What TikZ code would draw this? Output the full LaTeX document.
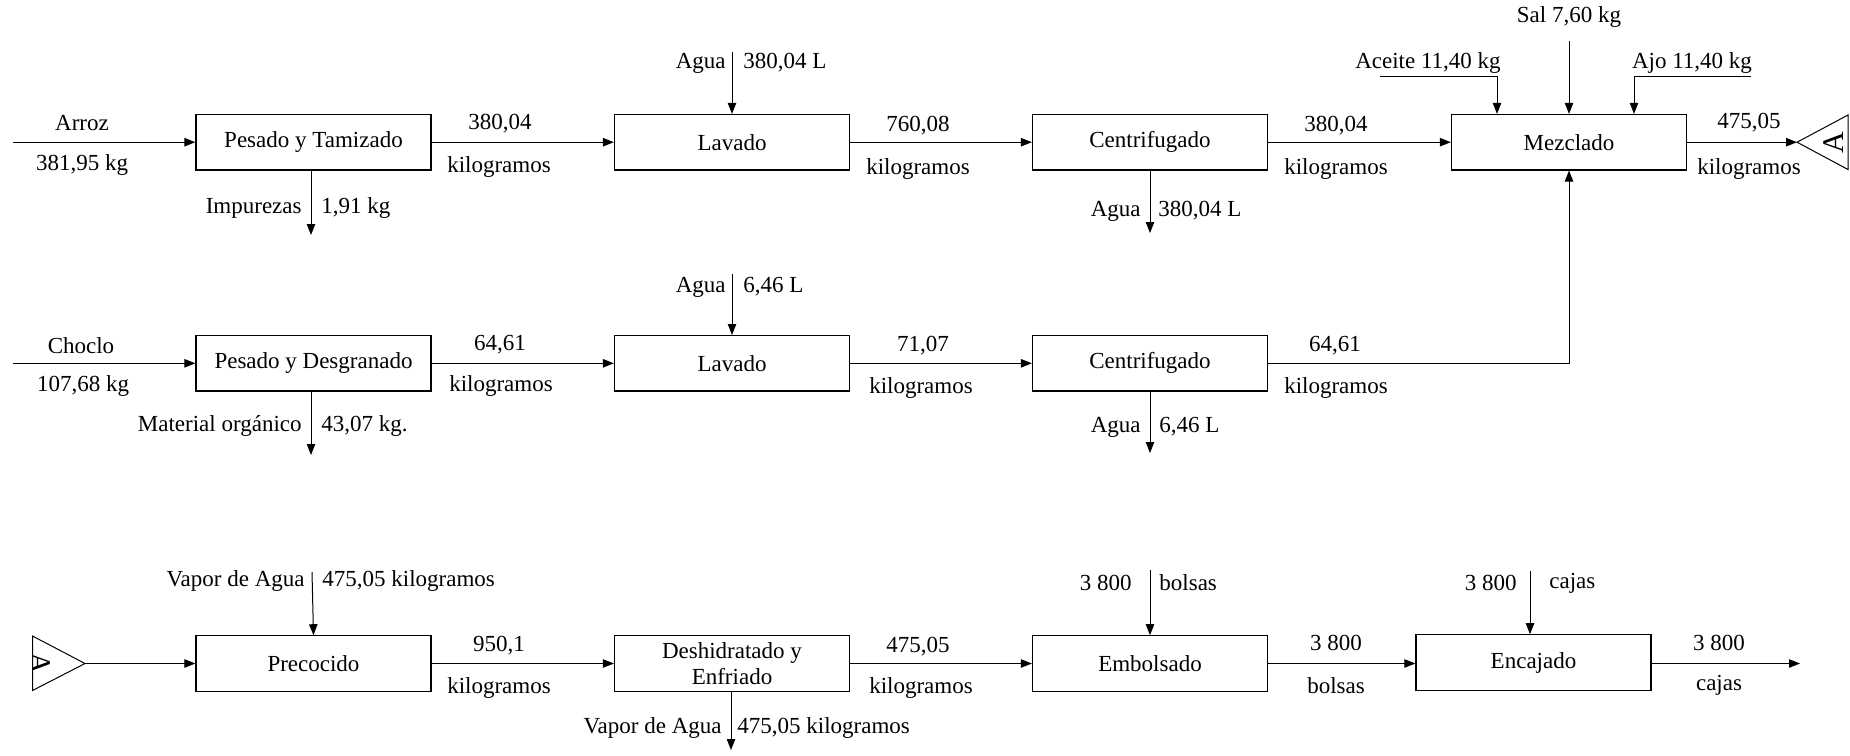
\documentclass[tikz,border=0pt]{standalone}
\usepackage{fontspec}
\setmainfont{Liberation Serif}
\usetikzlibrary{arrows.meta,calc}
\begin{document}
\begin{tikzpicture}[x=0.5pt,y=-0.5pt,
  every node/.style={font=\fontsize{11.5}{12.8}\selectfont, inner sep=0pt},
  proc/.style={draw, line width=0.6pt, minimum width=117.5pt, minimum height=27.7pt, align=center},
  arr/.style={-{Triangle[length=5.5pt,width=4.2pt]}, line width=0.5pt},
  ln/.style={line width=0.5pt},
  tri/.style={line width=0.5pt},
  trilbl/.style={font=\fontsize{15}{15}\selectfont}]
\useasboundingbox (0,0) rectangle (1850,755);

% ---------- Row 1 ----------
\node[proc] (pt)   at (313.5,142.2) {Pesado y Tamizado};
\node[proc] (lav1) at (732,142.2)   {Lavado};
\node[proc] (cen1) at (1150,142.2)  {Centrifugado};
\node[proc] (mez)  at (1569,142.2)  {Mezclado};

\coordinate (inArroz) at (13,142.2);
\draw[arr] (inArroz) -- (pt.west);
\node at (82,123) {Arroz};
\node at (82,165) {381,95 kg};

\coordinate (impOut) at (311,235);
\draw[arr] (pt.south -| impOut) -- (impOut);
\node[anchor=east] at (302,208) {Impurezas};
\node[anchor=west] at (321,208) {1,91 kg};

\draw[arr] (pt.east) -- (lav1.west);
\node at (500,124) {380,04};
\node at (499,167) {kilogramos};

\coordinate (agua1in) at (732,52);
\draw[arr] (agua1in) -- (lav1.north);
\node[anchor=east] at (726,63) {Agua};
\node[anchor=west] at (743,63) {380,04 L};

\draw[arr] (lav1.east) -- (cen1.west);
\node at (918,126) {760,08};
\node at (918,169) {kilogramos};

\coordinate (agua1out) at (1150,233);
\draw[arr] (cen1.south) -- (agua1out);
\node[anchor=east] at (1141,211) {Agua};
\node[anchor=west] at (1158,211) {380,04 L};

\draw[arr] (cen1.east) -- (mez.west);
\node at (1336,126) {380,04};
\node at (1336,169) {kilogramos};

\coordinate (salIn) at (1569,41);
\draw[arr] (salIn) -- (mez.north);
\node at (1569,17) {Sal 7,60 kg};

\coordinate (aceIn) at (1380,76);
\coordinate (aceDn) at (1497,76);
\draw[arr] (aceIn) -- (aceDn) -- (aceDn |- mez.north);
\node at (1428,63) {Aceite 11,40 kg};

\coordinate (ajoIn) at (1751,76);
\coordinate (ajoDn) at (1634,76);
\draw[arr] (ajoIn) -- (ajoDn) -- (ajoDn |- mez.north);
\node at (1692,63) {Ajo 11,40 kg};

% connector A (right)
\coordinate (triRtip) at (1797,142.2);
\coordinate (triRtop) at (1848,115);
\coordinate (triRbot) at (1848,169.5);
\draw[tri] (triRtip) -- (triRtop) -- (triRbot) -- cycle;
\node[trilbl, rotate=90] (aR) at (1834,142.2) {A};
\draw[arr] (mez.east) -- (triRtip);
\node at (1749,123) {475,05};
\node at (1749,169) {kilogramos};

% ---------- Row 2 ----------
\node[proc] (pd)   at (313.5,363.3) {Pesado y Desgranado};
\node[proc] (lav2) at (732,363.3)   {Lavado};
\node[proc] (cen2) at (1150,363.3)  {Centrifugado};

\coordinate (inChoclo) at (13,363.3);
\draw[arr] (inChoclo) -- (pd.west);
\node at (81,346) {Choclo};
\node at (83,386) {107,68 kg};

\coordinate (matOut) at (311,455);
\draw[arr] (pd.south -| matOut) -- (matOut);
\node[anchor=east] at (302,426) {Material orgánico};
\node[anchor=west] at (321,426) {43,07 kg.};

\draw[arr] (pd.east) -- (lav2.west);
\node at (500,345) {64,61};
\node at (501,386) {kilogramos};

\coordinate (agua2in) at (732,274);
\draw[arr] (agua2in) -- (lav2.north);
\node[anchor=east] at (726,287) {Agua};
\node[anchor=west] at (743,287) {6,46 L};

\draw[arr] (lav2.east) -- (cen2.west);
\node at (923,346) {71,07};
\node at (921,388) {kilogramos};

\coordinate (agua2out) at (1150,453);
\draw[arr] (cen2.south) -- (agua2out);
\node[anchor=east] at (1141,427) {Agua};
\node[anchor=west] at (1159,427) {6,46 L};

\draw[arr] (cen2.east) -| (mez.south);
\node at (1335,346) {64,61};
\node at (1336,388) {kilogramos};

% ---------- Row 3 ----------
\node[proc] (pre) at (313.5,663.5)  {Precocido};
\node[proc] (des) at (732,663.5)    {Deshidratado y\\Enfriado};
\node[proc] (emb) at (1150,663.5)   {Embolsado};
\node[proc] (enc) at (1533.5,662.5) {Encajado};

% connector A (left)
\coordinate (triLtip) at (85,663.5);
\coordinate (triLtop) at (32.5,636);
\coordinate (triLbot) at (32.5,690.5);
\draw[tri] (triLtip) -- (triLtop) -- (triLbot) -- cycle;
\begin{scope}
\clip (triLtip) -- (triLtop) -- (triLbot) -- cycle;
\node[trilbl, rotate=-90] (aL) at (40,663.5) {A};
\end{scope}
\draw[arr] (triLtip) -- (pre.west);

\coordinate (vapIn) at (312,572);
\draw[arr] (vapIn) -- (pre.north);
\node[anchor=east] at (305,581) {Vapor de Agua};
\node[anchor=west] at (322,581) {475,05 kilogramos};

\draw[arr] (pre.east) -- (des.west);
\node at (499,646) {950,1};
\node at (499,688) {kilogramos};

\coordinate (vapOut) at (731,750);
\draw[arr] (des.south -| vapOut) -- (vapOut);
\node[anchor=east] at (722,728) {Vapor de Agua};
\node[anchor=west] at (737,728) {475,05 kilogramos};

\draw[arr] (des.east) -- (emb.west);
\node at (918,647) {475,05};
\node at (921,688) {kilogramos};

\coordinate (bolIn) at (1150,570);
\draw[arr] (bolIn) -- (emb.north);
\node[anchor=east] at (1132,583) {3 800};
\node[anchor=west] at (1159,583) {bolsas};

\draw[arr] (emb.east) -- (emb.east -| enc.west);
\node at (1336,643) {3 800};
\node at (1336,686) {bolsas};

\coordinate (cajIn) at (1530,571);
\draw[arr] (cajIn) -- (cajIn |- enc.north);
\node[anchor=east] at (1517,583) {3 800};
\node[anchor=west] at (1549,583) {cajas};

\coordinate (cajOut) at (1800,663.5);
\draw[arr] (enc.east |- cajOut) -- (cajOut);
\node at (1719,643) {3 800};
\node at (1719,685) {cajas};
\end{tikzpicture}
\end{document}
